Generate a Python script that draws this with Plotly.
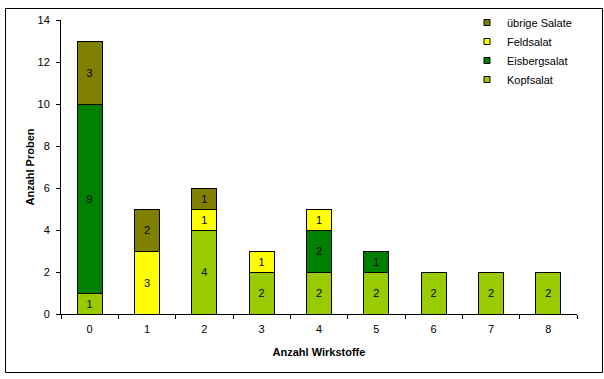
import plotly.graph_objects as go

categories = ["0", "1", "2", "3", "4", "5", "6", "7", "8"]
kopfsalat = [1, 0, 4, 2, 2, 2, 2, 2, 2]
eisbergsalat = [9, 0, 0, 0, 2, 1, 0, 0, 0]
feldsalat = [0, 3, 1, 1, 1, 0, 0, 0, 0]
uebrige = [3, 2, 1, 0, 0, 0, 0, 0, 0]

series = [
    ("Kopfsalat", kopfsalat, "#99CC00"),
    ("Eisbergsalat", eisbergsalat, "#008000"),
    ("Feldsalat", feldsalat, "#FFFF00"),
    ("übrige Salate", uebrige, "#808000"),
]

FONT = "Liberation Sans, Arial, sans-serif"

fig = go.Figure()
for name, vals, color in series:
    fig.add_trace(go.Bar(
        x=categories, y=vals, name=name, legendgroup=name, showlegend=False,
        marker=dict(color=color, line=dict(color="black", width=1)),
        text=[str(v) if v > 0 else "" for v in vals],
        textposition="inside", insidetextanchor="middle", textangle=0,
        insidetextfont=dict(color="black", size=11, family=FONT),
        constraintext="none",
        width=0.44,
        hoverinfo="skip",
    ))
# legend entries with small square symbols
for name, vals, color in series:
    fig.add_trace(go.Scatter(
        x=[None], y=[None], mode="markers", name=name, legendgroup=name,
        marker=dict(symbol="square", size=6, color=color,
                    line=dict(color="black", width=1)),
    ))

W, H = 604, 379
L, R, T, B = 61, 27, 20, 65
pw, ph = W - L - R, H - T - B

def px(x):
    return (x - L) / pw

def py(y):
    return (H - B - y) / ph

bx0, bx1, by0, by1 = px(5.5), px(602.5), py(372.5), py(8.5)

fig.update_layout(
    width=W, height=H, barmode="stack",
    margin=dict(l=L, r=R, t=T, b=B, autoexpand=False),
    paper_bgcolor="white", plot_bgcolor="white",
    font=dict(family=FONT, size=11, color="black"),
    bargap=0.56,
    legend=dict(
        traceorder="reversed", x=px(467), y=py(8), xanchor="left", yanchor="top",
        font=dict(size=11, family=FONT), bgcolor="rgba(0,0,0,0)",
        itemwidth=30, tracegroupgap=0,
    ),
    xaxis=dict(
        type="category", showline=True, linecolor="black", linewidth=1,
        ticks="outside", tickson="boundaries", ticklen=4, tickcolor="black",
        showgrid=False, tickfont=dict(size=11), ticklabelstandoff=5,
        title=dict(text="<b>Anzahl Wirkstoffe</b>", font=dict(size=11), standoff=14),
    ),
    yaxis=dict(
        range=[0, 14], dtick=2, showline=True, linecolor="black", linewidth=1,
        ticks="outside", ticklen=4, tickcolor="black", showgrid=False,
        zeroline=False, tickfont=dict(size=11), ticklabelstandoff=4,
        title=dict(text="<b>Anzahl Proben</b>", font=dict(size=11), standoff=0),
    ),
    shapes=[dict(
        type="rect", xref="paper", yref="paper", layer="above",
        x0=bx0, y0=by0, x1=bx1, y1=by1,
        line=dict(color="black", width=1), fillcolor="rgba(0,0,0,0)",
    )],
)

fig.write_html(
    "out.html",
    config={"displayModeBar": False},
    post_script="document.body.style.margin='0';document.body.style.overflow='hidden';"
                "document.documentElement.style.overflow='hidden';window.scrollTo(0,0);",
)
